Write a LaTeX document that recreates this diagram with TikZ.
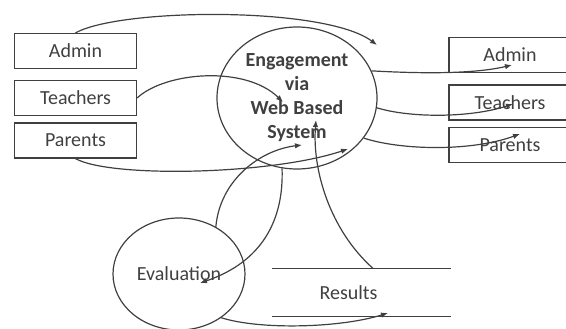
\documentclass[tikz,border=0pt]{standalone}
\usepackage{fontspec}
\setmainfont{Carlito}
\usetikzlibrary{shapes.geometric,arrows.meta}

\begin{document}
\begin{tikzpicture}
  [x=1pt,y=-1pt,line width=1.2pt,color=black!75,
   every node/.style={font=\fontsize{20}{24}\selectfont},
   box/.style={draw,rectangle,minimum width=122pt,minimum height=35pt,inner sep=0pt},
   bubble/.style={draw,ellipse,inner sep=0pt},
   flow/.style={-{Latex[length=7pt,width=5.5pt]}}]
  \useasboundingbox (0,0) rectangle (566,329);

  % users on the left
  \node[box] (al) at (75.5,51) {Admin};
  \node[box] (tl) at (75.5,98) {Teachers};
  \node[box] (pl) at (75.5,140.5) {Parents};

  % users on the right
  \node[box] (ar) at (510,55) {Admin};
  \node[box] (tr) at (510,102.5) {Teachers};
  \node[box] (pr) at (510,145) {Parents};

  \node[bubble,minimum width=160pt,minimum height=142pt,align=center,
        font=\bfseries\fontsize{20}{24}\selectfont] (eng) at (297,98)
        {Engagement\\via\\Web Based\\System};
  \node[bubble,minimum width=132pt,minimum height=112pt] (eval) at (179,274) {Evaluation};

  % data store
  \node[minimum width=177pt,minimum height=47pt,inner sep=0pt] (res) at (361.5,292.5) {};
  \node (restext) at ([xshift=-13pt]res.center) {Results};
  \draw (res.north west) -- (res.north east);
  \draw (res.south west) -- (res.south east);

  \coordinate (c1) at (377,45);
  \coordinate (c2) at (283,102);
  \coordinate (c3) at (348,149);
  \coordinate (c4) at (512,65);
  \coordinate (c5) at (513,104);
  \coordinate (c6) at (520,134);
  \coordinate (c7) at (302,145);
  \coordinate (c8) at (200,283);
  \coordinate (c9) at (316,120);
  \coordinate (c10) at (388,313);
  \coordinate (r1) at ([xshift=11.5pt]res.north);

  \draw[flow] (al.north) .. controls (120,8) and (325,6) .. (c1);
  \draw[flow] (tl.east) .. controls (165,72) and (245,65) .. (c2);
  \draw[flow] (pl.south) .. controls (110,178) and (270,175) .. (c3);

  \draw[flow] (eng.20) .. controls (410,73) and (470,75) .. (c4);
  \draw[flow] (eng.-7) .. controls (410,118) and (470,118) .. (c5);
  \draw[flow] (eng.-31) .. controls (400,150) and (470,152) .. (c6);

  \draw[flow] (eval.52) .. controls (220,180) and (260,150) .. (c7);
  \draw[flow] (eng.258) .. controls (284,220) and (262,262) .. (c8);
  \draw[flow] (r1) .. controls (330,230) and (312,170) .. (c9);
  \draw[flow] (eval.-46) .. controls (260,330) and (340,328) .. (c10);

\end{tikzpicture}
\end{document}
